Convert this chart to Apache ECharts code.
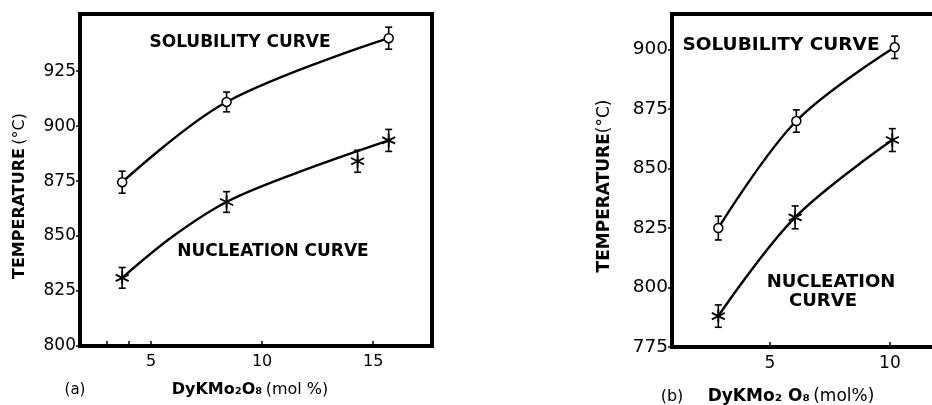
<!DOCTYPE html>
<html>
<head>
<meta charset="utf-8">
<script src="https://cdn.jsdelivr.net/npm/echarts@6/dist/echarts.min.js"></script>
<style>html,body{margin:0;padding:0;background:#fff}#c{width:932px;height:405px}</style>
</head>
<body>
<div id="c"></div>
<script>
// ---- Panel (a) data ----
const aSolX = [3.7, 8.4, 15.7];
const aSolY = [874.5, 911, 940];
const aSolErr = [5, 4.5, 5];
const aNucX = [3.7, 8.4, 14.3, 15.7];
const aNucY = [831, 865.5, 884, 893.5];
const aNucErr = [4.7, 4.7, 5, 5];
const aNucCurveX = [3.7, 6, 8.4, 11.5, 15.7];
const aNucCurveY = [831, 850, 865.5, 878.5, 893.5];
const aYTicks = [800, 825, 850, 875, 900, 925];
const aXLabels = [5, 10, 15];
const aXTicks = [3, 4, 5, 10, 15];

// ---- Panel (b) data ----
const bSolX = [2.85, 6.1, 10.2];
const bSolY = [825, 870, 901];
const bSolErr = [5, 4.7, 4.7];
const bNucX = [2.85, 6.05, 10.1];
const bNucY = [788, 829.5, 862];
const bNucErr = [4.7, 4.8, 4.8];
const bYTicks = [775, 800, 825, 850, 875, 900];
const bXLabels = [5, 10];
const bXTicks = [5, 10];

const pts = (xs, ys) => xs.map((x, i) => [x, ys[i]]);
const errPts = (xs, ys, es) => xs.map((x, i) => [x, ys[i], es[i]]);

const FONT = 'DejaVu Sans';
const asterisk = 'path://M0,-1 L0,1 M-0.866,-0.5 L0.866,0.5 M-0.866,0.5 L0.866,-0.5';

function errSeries(data, gi) {
  return {
    type: 'custom', xAxisIndex: gi, yAxisIndex: gi, data: data, z: 3,
    renderItem: function (params, api) {
      const x = api.value(0), y = api.value(1), e = api.value(2);
      const lo = api.coord([x, y - e]), hi = api.coord([x, y + e]);
      const w = 3.5;
      const st = { stroke: '#000', lineWidth: 1.6, fill: null };
      return { type: 'group', children: [
        { type: 'line', shape: { x1: lo[0], y1: lo[1], x2: hi[0], y2: hi[1] }, style: st },
        { type: 'line', shape: { x1: lo[0] - w, y1: lo[1], x2: lo[0] + w, y2: lo[1] }, style: st },
        { type: 'line', shape: { x1: hi[0] - w, y1: hi[1], x2: hi[0] + w, y2: hi[1] }, style: st }
      ]};
    }
  };
}
function curve(data, gi) {
  return { type: 'line', xAxisIndex: gi, yAxisIndex: gi, data: data, smooth: 0.35,
    showSymbol: false, symbol: 'none', lineStyle: { color: '#000', width: 2.4 }, z: 2, silent: true };
}
function circles(data, gi, size) {
  return { type: 'scatter', xAxisIndex: gi, yAxisIndex: gi, data: data, symbol: 'circle', symbolSize: size,
    itemStyle: { color: '#fff', borderColor: '#000', borderWidth: 1.5, opacity: 1 }, z: 4 };
}
function stars(data, gi, size) {
  return { type: 'scatter', xAxisIndex: gi, yAxisIndex: gi, data: data, symbol: asterisk, symbolSize: size,
    itemStyle: { color: 'transparent', borderColor: '#000', borderWidth: 1.8, opacity: 1 }, z: 4 };
}
function xAx(gi, min, max, labels, ticks, fs) {
  return { type: 'value', gridIndex: gi, min: min, max: max, splitLine: { show: false },
    axisLine: { show: false },
    axisTick: { show: true, inside: true, length: 5, customValues: ticks, lineStyle: { color: '#000', width: 1.5 } },
    axisLabel: { customValues: labels, color: '#000', fontFamily: FONT, fontSize: fs, margin: 8 } };
}
function yAx(gi, min, max, vals, fs) {
  return { type: 'value', gridIndex: gi, min: min, max: max, splitLine: { show: false },
    axisLine: { show: false },
    axisTick: { show: true, inside: false, length: 4, customValues: vals, lineStyle: { color: '#000', width: 1.5 } },
    axisLabel: { customValues: vals, color: '#000', fontFamily: FONT, fontSize: fs, margin: 4 } };
}
function label(text, x, y, fs) {
  return { type: 'text', x: x, y: y, z: 10,
    style: { text: text, fill: '#000', font: 'bold ' + fs + 'px "' + FONT + '"', align: 'center', verticalAlign: 'middle' } };
}

const chart = echarts.init(document.getElementById('c'));
chart.setOption({
  backgroundColor: '#fff',
  animation: false,
  grid: [
    { left: 80, top: 14, width: 352, height: 332, show: true, borderColor: '#000', borderWidth: 4,
      backgroundColor: 'transparent', outerBoundsMode: 'none', containLabel: false },
    { left: 672, top: 14, width: 300, height: 333, show: true, borderColor: '#000', borderWidth: 4,
      backgroundColor: 'transparent', outerBoundsMode: 'none', containLabel: false }
  ],
  xAxis: [ xAx(0, 1.8, 17.65, aXLabels, aXTicks, 16), xAx(1, 0.92, 13.42, bXLabels, bXTicks, 17) ],
  yAxis: [ yAx(0, 800, 951, aYTicks, 17), yAx(1, 775, 915, bYTicks, 18.5) ],
  series: [
    curve(pts(aSolX, aSolY), 0),
    curve(pts(aNucCurveX, aNucCurveY), 0),
    errSeries(errPts(aSolX, aSolY, aSolErr), 0),
    errSeries(errPts(aNucX, aNucY, aNucErr), 0),
    circles(pts(aSolX, aSolY), 0, 9),
    stars(pts(aNucX, aNucY), 0, 13),
    curve(pts(bSolX, bSolY), 1),
    curve(pts(bNucX, bNucY), 1),
    errSeries(errPts(bSolX, bSolY, bSolErr), 1),
    errSeries(errPts(bNucX, bNucY, bNucErr), 1),
    circles(pts(bSolX, bSolY), 1, 9),
    stars(pts(bNucX, bNucY), 1, 13)
  ],
  graphic: [
    label('SOLUBILITY CURVE', 240, 43, 17),
    label('NUCLEATION CURVE', 273, 252, 17),
    label('SOLUBILITY CURVE', 781, 45, 18.5),
    label('NUCLEATION', 831, 282, 18),
    label('CURVE', 823, 301, 18),
    { type: 'text', x: 20, y: 196, rotation: Math.PI / 2, z: 10,
      style: { text: '{b|TEMPERATURE} {r|(°C)}', align: 'center', verticalAlign: 'middle',
        rich: { b: { fontFamily: FONT, fontWeight: 'bold', fontSize: 16, fill: '#000' },
                r: { fontFamily: FONT, fontSize: 16, fill: '#000' } } } },
    { type: 'text', x: 605, y: 186, rotation: Math.PI / 2, z: 10,
      style: { text: '{b|TEMPERATURE}{r|(°C)}', align: 'center', verticalAlign: 'middle',
        rich: { b: { fontFamily: FONT, fontWeight: 'bold', fontSize: 17, fill: '#000' },
                r: { fontFamily: FONT, fontSize: 17, fill: '#000' } } } },
    { type: 'text', x: 75, y: 390, z: 10,
      style: { text: '(a)', fill: '#000', font: '15px "' + FONT + '"', align: 'center', verticalAlign: 'middle' } },
    { type: 'text', x: 250, y: 390, z: 10,
      style: { text: '{b|DyKMo₂O₈} {r|(mol %)}', align: 'center', verticalAlign: 'middle',
        rich: { b: { fontFamily: FONT, fontWeight: 'bold', fontSize: 16, fill: '#000' },
                r: { fontFamily: FONT, fontSize: 16, fill: '#000' } } } },
    { type: 'text', x: 672, y: 397, z: 10,
      style: { text: '(b)', fill: '#000', font: '16px "' + FONT + '"', align: 'center', verticalAlign: 'middle' } },
    { type: 'text', x: 791, y: 397, z: 10,
      style: { text: '{b|DyKMo₂ O₈} {r|(mol%)}', align: 'center', verticalAlign: 'middle',
        rich: { b: { fontFamily: FONT, fontWeight: 'bold', fontSize: 17, fill: '#000' },
                r: { fontFamily: FONT, fontSize: 17, fill: '#000' } } } }
  ]
});
</script>
</body>
</html>
